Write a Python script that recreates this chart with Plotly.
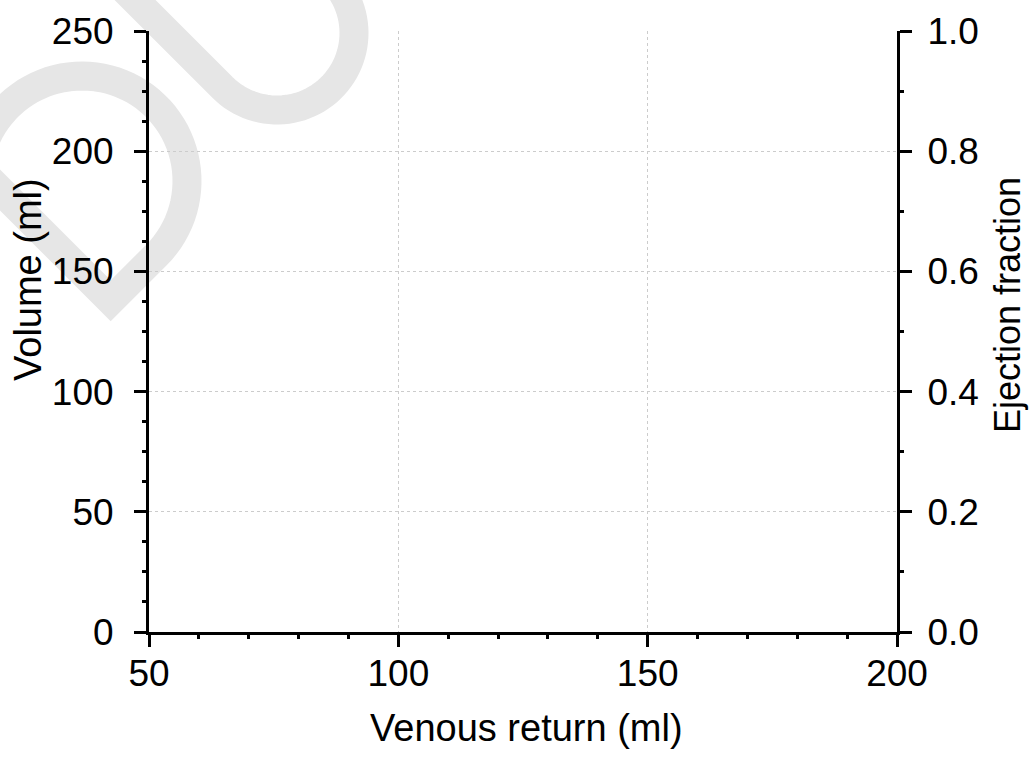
import numpy as np
import plotly.graph_objects as go

# Axis definitions
venous_return_ticks = [50, 100, 150, 200]
volume_ticks = [0, 50, 100, 150, 200, 250]
ejection_fraction_ticks = [0.0, 0.2, 0.4, 0.6, 0.8, 1.0]

x_title = "Venous return (ml)"
y_title = "Volume (ml)"
y2_title = "Ejection fraction"

FONT = "Liberation Sans, Arial, sans-serif"
W, H = 1033, 761
ML, MR, MT, MB = 149, 136, 31, 129
PW, PH = W - ML - MR, H - MT - MB


def to_paper(px, py):
    return (px - ML) / PW, (MT + PH - py) / PH


def arc(cx, cy, r, a0, a1, n=60):
    t = np.radians(np.linspace(a0, a1, n))
    return list(zip(cx + r * np.cos(t), cy + r * np.sin(t)))


def path_from(points):
    pts = [to_paper(x, y) for x, y in points]
    return "M " + " L ".join(f"{x:.5f},{y:.5f}" for x, y in pts)


# Decorative light-grey band in the upper-left corner (pixel geometry)
upper = [(72, -63)] + arc(277, 33, 77, 135, -60)
lower = [(-60, 130), (110.7, 300.7)] + arc(82, 181, 105, 45, -170)

shapes = []
for pts in (upper, lower):
    shapes.append(dict(
        type="path", xref="paper", yref="paper", path=path_from(pts),
        line=dict(color="#e6e6e6", width=29), layer="below",
    ))

fig = go.Figure()
fig.add_trace(go.Scatter(x=[], y=[], showlegend=False))
fig.add_trace(go.Scatter(x=[], y=[], yaxis="y2", showlegend=False))

axis_common = dict(
    showline=True, linecolor="black", linewidth=3,
    ticks="outside", ticklen=12, tickwidth=3, tickcolor="black",
    tickfont=dict(family=FONT, size=37, color="black"),
    zeroline=False,
)

fig.update_layout(
    width=W, height=H,
    margin=dict(l=ML, r=MR, t=MT, b=MB),
    paper_bgcolor="white", plot_bgcolor="white",
    showlegend=False,
    shapes=shapes,
    xaxis=dict(
        range=[50, 200], tickvals=venous_return_ticks,
        showgrid=True, gridcolor="#cccccc", gridwidth=1, griddash="dot",
        minor=dict(dtick=10, ticks="outside", ticklen=4, tickwidth=3,
                   tickcolor="black", showgrid=False),
        ticklabelstandoff=-5,
        **axis_common,
    ),
    yaxis=dict(
        range=[0, 250], tickvals=volume_ticks,
        showgrid=True, gridcolor="#cccccc", gridwidth=1, griddash="dot",
        minor=dict(dtick=12.5, ticks="outside", ticklen=4, tickwidth=3,
                   tickcolor="black", showgrid=False),
        ticklabelstandoff=13,
        **axis_common,
    ),
    yaxis2=dict(
        range=[0, 1], tickvals=ejection_fraction_ticks, tickformat=".1f",
        overlaying="y", side="right", showgrid=False,
        minor=dict(dtick=0.1, ticks="outside", ticklen=4, tickwidth=3,
                   tickcolor="black", showgrid=False),
        ticklabelstandoff=8,
        **axis_common,
    ),
    annotations=[
        dict(text=x_title, xref="paper", yref="paper",
             x=to_paper(526, 728)[0], y=to_paper(526, 728)[1],
             xanchor="center", yanchor="middle", showarrow=False,
             font=dict(family=FONT, size=38, color="black")),
        dict(text=y_title, xref="paper", yref="paper", textangle=-90,
             x=to_paper(28, 280)[0], y=to_paper(28, 280)[1],
             xanchor="center", yanchor="middle", showarrow=False,
             font=dict(family=FONT, size=38, color="black")),
        dict(text=y2_title, xref="paper", yref="paper", textangle=-90,
             x=to_paper(1007, 305)[0], y=to_paper(1007, 305)[1],
             xanchor="center", yanchor="middle", showarrow=False,
             font=dict(family=FONT, size=36, color="black")),
    ],
)

fig.write_html("out.html")
